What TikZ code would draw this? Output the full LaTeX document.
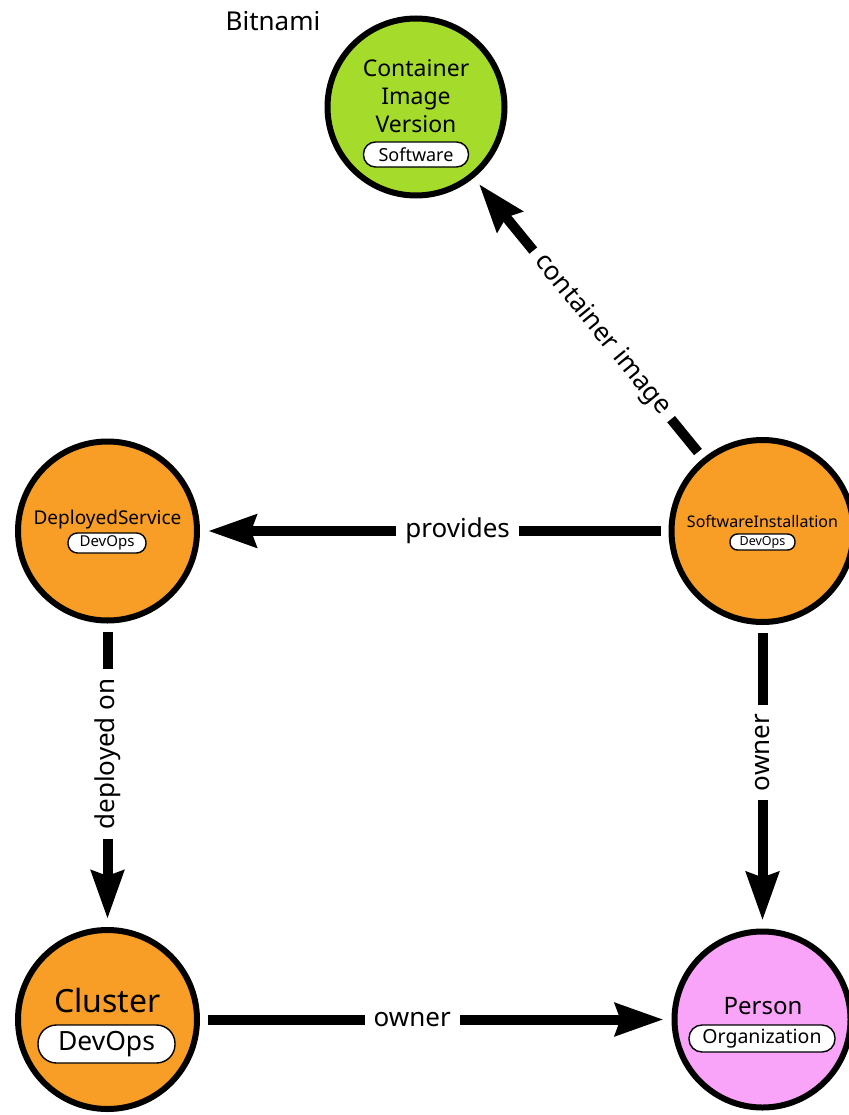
\documentclass[tikz,border=0pt]{standalone}
\usepackage{fontspec}
\setmainfont{Noto Sans}
\usetikzlibrary{arrows.meta}
\definecolor{entgreen}{RGB}{165,220,44}
\definecolor{entorange}{RGB}{248,157,38}
\definecolor{entpink}{RGB}{249,163,249}
\newcommand{\fs}[1]{\fontsize{#1}{#1}\selectfont}
\begin{document}
\begin{tikzpicture}[x=1pt,y=-1pt,
  ent/.style={circle,draw=black,line width=6pt,minimum size=#1,inner sep=0pt},
  badge/.style n args={3}{draw=black,line width=1.4pt,fill=white,
    minimum width=#1,minimum height=#2,rounded corners=#2/2-0.5pt,inner sep=0pt,font=\fs{#3}},
  rel/.style={line width=10pt,-{Stealth[length=48pt,width=32pt,inset=5pt]},
    shorten <=8pt,shorten >=8pt},
  lbl/.style={fill=white,inner xsep=9pt,inner ysep=2pt,font=\fs{26}}
]
\useasboundingbox (0,0) rectangle (848,1115);

% entities
\node[ent=177,fill=entgreen] (civ) at (416,107) {};
\node[ent=179,fill=entorange] (ds) at (107.5,531) {};
\node[ent=182,fill=entorange] (si) at (762.5,531) {};
\node[ent=179,fill=entorange] (cl) at (107.5,1019.5) {};
\node[ent=176,fill=entpink] (pe) at (762.5,1019.5) {};

% entity titles and tags
\node[font=\fontsize{23}{28}\selectfont,align=center,inner sep=0pt] (civname) at (416,96) {Container\\Image\\Version};
\node[badge={105}{25}{18}] (civtag) at (416,154.5) {Software};

\node[font=\fs{19},inner sep=0pt] (dsname) at (107.5,520) {DeployedService};
\node[badge={78}{20}{15}] (dstag) at (107,543) {DevOps};

\node[font=\fs{16},inner sep=0pt] (siname) at (762.5,521) {SoftwareInstallation};
\node[badge={65}{16}{12.5}] (sitag) at (762.5,542) {DevOps};

\node[font=\fs{32},inner sep=0pt] (clname) at (107.5,1000) {Cluster};
\node[badge={137}{38}{26.5}] (cltag) at (106.5,1044) {DevOps};

\node[font=\fs{24},inner sep=0pt] (pename) at (763,1006) {Person};
\node[badge={146}{27}{19.5}] (petag) at (762,1038.5) {Organization};

\node[font=\fs{26},inner sep=0pt] (bitnami) at (273,21) {Bitnami};

% relations
\draw[rel] (si) -- node[lbl,pos=0.45] (lprov) {provides} (ds);
\draw[rel] (si) -- node[lbl,pos=0.44,rotate=-50.7] (lcont) {container image} (civ);
\draw[rel] (ds) -- node[lbl,pos=0.43,rotate=90] (ldep) {deployed on} (cl);
\draw[rel] (si) -- node[lbl,pos=0.42,rotate=90] (lown1) {owner} (pe);
\draw[rel] (cl) -- node[lbl,pos=0.45] (lown2) {owner} (pe);
\end{tikzpicture}
\end{document}
